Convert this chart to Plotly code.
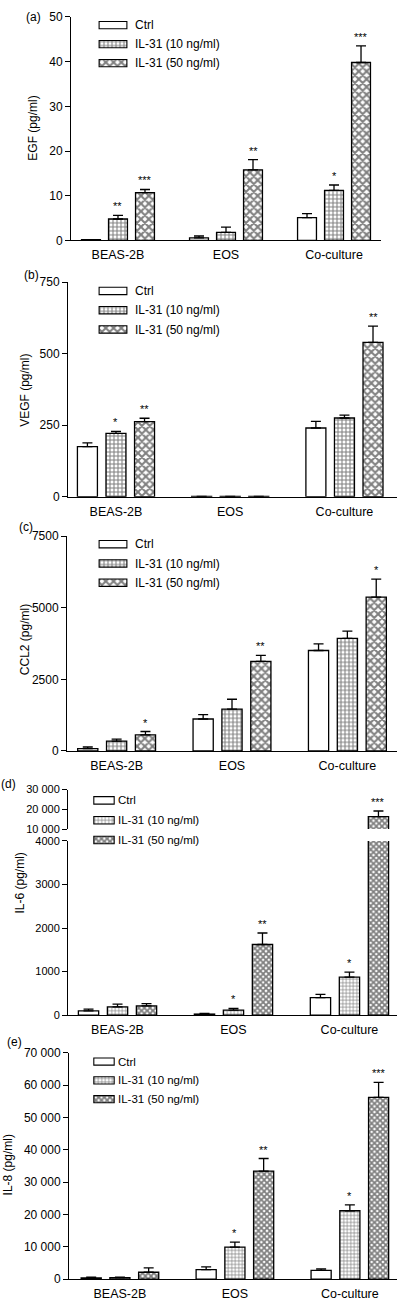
import plotly.graph_objects as go

W, H = 402, 1306
FONT = "Liberation Sans, Arial, Helvetica, sans-serif"

# ---------------- data ----------------
categories = ["BEAS-2B", "EOS", "Co-culture"]
series_names = ["Ctrl", "IL-31 (10 ng/ml)", "IL-31 (50 ng/ml)"]

# (a) EGF (pg/ml)
egf_ctrl = [0.2, 0.6, 5.1]
egf_il31_10 = [4.8, 1.8, 11.2]
egf_il31_50 = [10.7, 15.8, 39.8]
egf_err_ctrl = [0.0, 0.4, 0.9]
egf_err_10 = [0.8, 1.2, 1.2]
egf_err_50 = [0.7, 2.3, 3.7]
egf_stars_ctrl = ["", "", ""]
egf_stars_10 = ["**", "", "*"]
egf_stars_50 = ["***", "**", "***"]

# (b) VEGF (pg/ml)
vegf_ctrl = [175, 1, 240]
vegf_il31_10 = [221, 1, 275]
vegf_il31_50 = [262, 1, 539]
vegf_err_ctrl = [13, 0, 23]
vegf_err_10 = [7, 0, 10]
vegf_err_50 = [12, 0, 57]
vegf_stars_ctrl = ["", "", ""]
vegf_stars_10 = ["*", "", ""]
vegf_stars_50 = ["**", "", "**"]

# (c) CCL2 (pg/ml)
ccl2_ctrl = [80, 1116, 3508]
ccl2_il31_10 = [345, 1461, 3934]
ccl2_il31_50 = [564, 3129, 5372]
ccl2_err_ctrl = [58, 150, 230]
ccl2_err_10 = [70, 345, 253]
ccl2_err_50 = [115, 207, 633]
ccl2_stars_ctrl = ["", "", ""]
ccl2_stars_10 = ["", "", ""]
ccl2_stars_50 = ["*", "**", "*"]

# (d) IL-6 (pg/ml)
il6_ctrl = [98, 23, 401]
il6_il31_10 = [190, 114, 871]
il6_il31_50 = [212, 1621, 16300]
il6_err_ctrl = [38, 15, 76]
il6_err_10 = [60, 38, 114]
il6_err_50 = [53, 265, 2850]
il6_stars_ctrl = ["", "", ""]
il6_stars_10 = ["", "*", "*"]
il6_stars_50 = ["", "**", "***"]

# (e) IL-8 (pg/ml)
il8_ctrl = [409, 2963, 2759]
il8_il31_10 = [511, 9912, 21153]
il8_il31_50 = [2146, 33415, 56200]
il8_err_ctrl = [200, 820, 410]
il8_err_10 = [100, 1530, 1840]
il8_err_50 = [1330, 3880, 4600]
il8_stars_ctrl = ["", "", ""]
il8_stars_10 = ["", "*", "*"]
il8_stars_50 = ["", "**", "***"]

# tick values / labels
egf_ticks = [0, 10, 20, 30, 40, 50]
vegf_ticks = [0, 250, 500, 750]
ccl2_ticks = [0, 2500, 5000, 7500]
il6_ticks_low = [0, 1000, 2000, 3000, 4000]
il6_ticks_high = [10000, 20000, 30000]
il6_ticktext_high = ["10 000", "20 000", "30 000"]
il8_ticks = [0, 10000, 20000, 30000, 40000, 50000, 60000, 70000]
il8_ticktext = ["0", "10 000", "20 000", "30 000", "40 000", "50 000", "60 000", "70 000"]

# ---------------- styling ----------------
BARGAP = 0.25
BARGROUPGAP = 0.3
SLOT = (1 - BARGAP) / 3


def fx(px):
    return px / W


def fy(py):
    return 1 - py / H


PAT_ABC = [
    dict(shape="", size=4, solidity=0.3),
    dict(shape="+", size=4, solidity=0.45),
    dict(shape="x", size=5.5, solidity=0.6),
]
PAT_DE = [
    dict(shape="", size=4, solidity=0.3),
    dict(shape="+", size=3.5, solidity=0.35),
    dict(shape="x", size=4, solidity=0.7),
]

panels = [
    dict(name="(a)", title="EGF (pg/ml)",
         vals=[egf_ctrl, egf_il31_10, egf_il31_50],
         errs=[egf_err_ctrl, egf_err_10, egf_err_50],
         stars=[egf_stars_ctrl, egf_stars_10, egf_stars_50],
         ticks=egf_ticks, ticktext=[str(t) for t in egf_ticks], yrange=[0, 50],
         xdom=(71, 381), ydom=(10, 236), xrange=[-0.435, 2.435],
         pats=PAT_ABC, tickfs=12,
         leg_x=(98, 128), leg_y=(8.7, 66.3), leg_fs=12, leg_pad=6,
         label_xy=(33, 10), title_xy=(33, 123)),
    dict(name="(b)", title="VEGF (pg/ml)",
         vals=[vegf_ctrl, vegf_il31_10, vegf_il31_50],
         errs=[vegf_err_ctrl, vegf_err_10, vegf_err_50],
         stars=[vegf_stars_ctrl, vegf_stars_10, vegf_stars_50],
         ticks=vegf_ticks, ticktext=[str(t) for t in vegf_ticks], yrange=[0, 750],
         xdom=(68, 397), ydom=(278, 495), xrange=[-0.42, 2.46],
         pats=PAT_ABC, tickfs=12,
         leg_x=(98, 128), leg_y=(277.3, 335.7), leg_fs=12, leg_pad=6,
         label_xy=(31, 271), title_xy=(25, 388)),
    dict(name="(c)", title="CCL2 (pg/ml)",
         vals=[ccl2_ctrl, ccl2_il31_10, ccl2_il31_50],
         errs=[ccl2_err_ctrl, ccl2_err_10, ccl2_err_50],
         stars=[ccl2_stars_ctrl, ccl2_stars_10, ccl2_stars_50],
         ticks=ccl2_ticks, ticktext=[str(t) for t in ccl2_ticks], yrange=[0, 7500],
         xdom=(67, 397), ydom=(535, 752), xrange=[-0.43, 2.43],
         pats=PAT_ABC, tickfs=12,
         leg_x=(98, 128), leg_y=(533.3, 591.7), leg_fs=12, leg_pad=6,
         label_xy=(26, 526), title_xy=(25, 640)),
    dict(name="(d)", title="IL-6 (pg/ml)",
         vals=[il6_ctrl, il6_il31_10, il6_il31_50],
         errs=[il6_err_ctrl, il6_err_10, il6_err_50],
         stars=[il6_stars_ctrl, il6_stars_10, il6_stars_50],
         ticks=il6_ticks_low, ticktext=[str(t) for t in il6_ticks_low], yrange=[0, 4000],
         xdom=(68, 397), ydom=(843, 1019), xrange=[-0.427, 2.41],
         pats=PAT_DE, tickfs=11,
         upper=dict(ydom=(791, 831), yrange=[10000, 30000],
                    ticks=il6_ticks_high, ticktext=il6_ticktext_high),
         leg_x=(93, 115), leg_y=(792, 852), leg_fs=11.5, leg_pad=2,
         label_xy=(8.5, 785), title_xy=(20, 886)),
    dict(name="(e)", title="IL-8 (pg/ml)",
         vals=[il8_ctrl, il8_il31_10, il8_il31_50],
         errs=[il8_err_ctrl, il8_err_10, il8_err_50],
         stars=[il8_stars_ctrl, il8_stars_10, il8_stars_50],
         ticks=il8_ticks, ticktext=il8_ticktext, yrange=[0, 70000],
         xdom=(69, 397), ydom=(1057, 1286), xrange=[-0.443, 2.41],
         pats=PAT_DE, tickfs=12,
         leg_x=(93, 115), leg_y=(1056.5, 1113.5), leg_fs=11.5, leg_pad=2,
         label_xy=(14, 1046), title_xy=(8, 1171)),
]

fig = go.Figure()
layout = dict(
    width=W, height=H,
    margin=dict(l=0, r=0, t=0, b=0),
    paper_bgcolor="white", plot_bgcolor="white",
    showlegend=False,
    barmode="group", bargap=BARGAP, bargroupgap=BARGROUPGAP,
    font=dict(family=FONT, size=12, color="black"),
)
annotations = []

n_panels = len(panels)
next_y = n_panels + 1  # extra y axes numbering


def axname(prefix, i):
    return prefix if i == 1 else f"{prefix}{i}"


legend_x_idx = n_panels + 1

for pi, p in enumerate(panels, start=1):
    xa = axname("x", pi)
    ya = axname("y", pi)
    layout[axname("xaxis", pi)] = dict(
        domain=[fx(p["xdom"][0]), fx(p["xdom"][1])],
        anchor=ya, type="category",
        categoryorder="array", categoryarray=categories,
        range=p["xrange"], showline=True, linecolor="black", linewidth=1,
        ticks="", showgrid=False, zeroline=False,
        tickfont=dict(size=12.5), ticklabelstandoff=3,
    )
    layout[axname("yaxis", pi)] = dict(
        domain=[fy(p["ydom"][1]), fy(p["ydom"][0])],
        anchor=xa, range=p["yrange"],
        tickvals=p["ticks"], ticktext=p["ticktext"],
        showline=True, linecolor="black", linewidth=1,
        ticks="outside", ticklen=5, tickwidth=1, tickcolor="black",
        showgrid=False, zeroline=False, tickfont=dict(size=p["tickfs"]),
    )
    y_axes = [(ya, p["yrange"])]
    if "upper" in p:
        up = p["upper"]
        yu = axname("y", next_y)
        layout[axname("yaxis", next_y)] = dict(
            domain=[fy(up["ydom"][1]), fy(up["ydom"][0])],
            anchor=xa, range=up["yrange"],
            tickvals=up["ticks"], ticktext=up["ticktext"],
            showline=True, linecolor="black", linewidth=1,
            ticks="outside", ticklen=5, tickwidth=1, tickcolor="black",
            showgrid=False, zeroline=False, tickfont=dict(size=p["tickfs"]),
        )
        y_axes.append((yu, up["yrange"]))
        next_y += 1

    for (yax, yr) in y_axes:
        for k in range(3):
            pat = p["pats"][k]
            fig.add_trace(go.Bar(
                x=categories, y=p["vals"][k], name=series_names[k],
                xaxis=xa, yaxis=yax,
                marker=dict(color="white", line=dict(color="black", width=1.3),
                            pattern=dict(shape=pat["shape"], size=pat["size"],
                                         solidity=pat["solidity"],
                                         fgcolor="black", bgcolor="white")),
                error_y=dict(type="data", symmetric=False, array=p["errs"][k],
                             arrayminus=[0] * len(categories),
                             color="black", thickness=1.3, width=5),
                showlegend=False, hoverinfo="skip",
            ))

    # significance stars
    for k in range(3):
        for ci in range(len(categories)):
            s = p["stars"][k][ci]
            if not s:
                continue
            top = p["vals"][k][ci] + p["errs"][k][ci]
            yref = y_axes[0][0]
            for (yax, yr) in y_axes:
                if yr[0] <= top <= yr[1]:
                    yref = yax
            annotations.append(dict(
                x=ci + (k - 1) * SLOT, y=top, xref=xa, yref=yref,
                text=s, showarrow=False, yanchor="bottom", yshift=1,
                font=dict(size=11, color="black"),
            ))

    # legend built as a tiny bar chart of swatches
    lx = axname("x", legend_x_idx)
    ly = axname("y", next_y)
    layout[axname("xaxis", legend_x_idx)] = dict(
        domain=[fx(p["leg_x"][0]), fx(p["leg_x"][1])], anchor=ly,
        range=[-0.04, 1.04], visible=False, fixedrange=True,
    )
    layout[axname("yaxis", next_y)] = dict(
        domain=[fy(p["leg_y"][1]), fy(p["leg_y"][0])], anchor=lx,
        type="category", categoryorder="array", categoryarray=series_names,
        range=[2.5, -0.5], side="right", showline=False, showgrid=False,
        zeroline=False, ticks="", ticklabelstandoff=p["leg_pad"],
        tickfont=dict(size=p["leg_fs"]), fixedrange=True,
    )
    fig.add_trace(go.Bar(
        x=[1] * len(series_names), y=series_names, orientation="h",
        width=0.38, xaxis=lx, yaxis=ly,
        marker=dict(color="white", line=dict(color="black", width=1.1),
                    pattern=dict(shape=[q["shape"] for q in p["pats"]],
                                 size=[q["size"] for q in p["pats"]],
                                 solidity=[q["solidity"] for q in p["pats"]],
                                 fgcolor="black", bgcolor="white")),
        showlegend=False, hoverinfo="skip",
    ))
    legend_x_idx += 1
    next_y += 1

    # panel label and axis title
    annotations.append(dict(
        x=fx(p["label_xy"][0]), y=fy(p["label_xy"][1]), xref="paper", yref="paper",
        text=p["name"], showarrow=False, xanchor="center", yanchor="middle",
        font=dict(size=12),
    ))
    annotations.append(dict(
        x=fx(p["title_xy"][0]), y=fy(p["title_xy"][1]), xref="paper", yref="paper",
        text=p["title"], showarrow=False, xanchor="center", yanchor="middle",
        textangle=-90, font=dict(size=12),
    ))

layout["annotations"] = annotations
fig.update_layout(**layout)
fig.write_html(
    "out.html",
    config={"displayModeBar": False, "staticPlot": True},
    post_script="document.body.style.margin='0';document.body.style.overflow='hidden';",
)
